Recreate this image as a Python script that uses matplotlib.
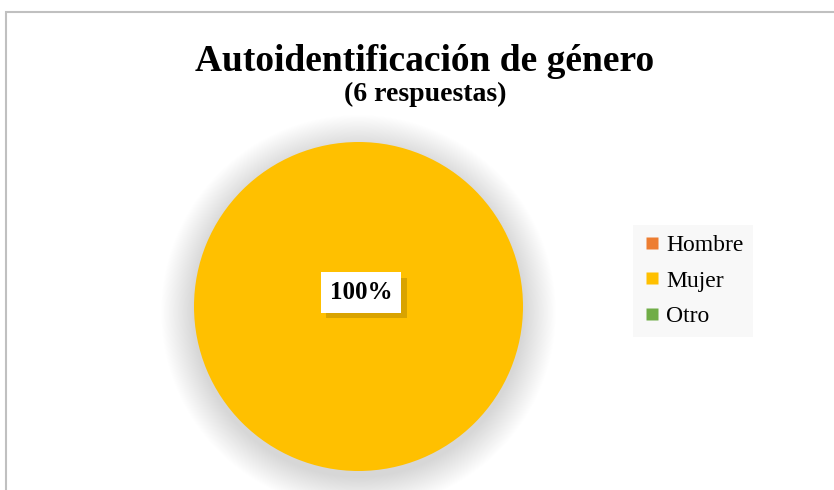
import matplotlib
matplotlib.use("Agg")
import matplotlib.pyplot as plt
from matplotlib.patches import Circle, Rectangle
from matplotlib.lines import Line2D
import matplotlib.patheffects as pe

categories = ["Hombre", "Mujer", "Otro"]
values = [0, 6, 0]
colors = ["#ED7D31", "#FFC000", "#70AD47"]
title = "Autoidentificación de género"
subtitle = "(6 respuestas)"

W, H = 834, 490
fig = plt.figure(figsize=(W / 100, H / 100), dpi=100)
fig.patch.set_facecolor("white")
serif = "Liberation Serif"

# frame
fig.add_artist(Rectangle((6 / W, -0.1), 1.2, (H - 12) / H + 0.1, transform=fig.transFigure,
                         fill=False, edgecolor="#c0c0c0", linewidth=1.5))

cx, cy, r = 358.5, H - 306.5, 164.5
ax = fig.add_axes([(cx - r) / W, (cy - r) / H, 2 * r / W, 2 * r / H])
ax.set_xlim(-1, 1)
ax.set_ylim(-1, 1)
ax.set_aspect("equal")
ax.axis("off")

# soft shadow
N = 40
for i in range(N):
    rr = 1.0 + 0.2 * (1 - i / N)
    ax.add_patch(Circle((0, -0.035), rr, facecolor="black", edgecolor="none",
                        alpha=0.0035, clip_on=False, zorder=0))

wedges, _ = ax.pie(values, colors=colors, startangle=90, counterclock=False,
                   radius=1, wedgeprops=dict(linewidth=0))
for w in wedges:
    w.set_zorder(2)
ax.set_xlim(-1, 1)
ax.set_ylim(-1, 1)

total = sum(values)
for v in values:
    if v > 0:
        t = ax.text(0.015, 0.085, f"{v / total * 100:.0f}%", ha="center", va="center",
                    fontsize=18, fontweight="bold", family=serif, zorder=5,
                    bbox=dict(boxstyle="square,pad=0.35", facecolor="white", edgecolor="none"))
        t.get_bbox_patch().set_path_effects([
            pe.withSimplePatchShadow(offset=(4, -4), shadow_rgbFace="black", alpha=0.15),
        ])

fig.text(425 / W, 1 - 71 / H, title, ha="center", va="baseline", fontsize=27,
         fontweight="bold", family=serif)
fig.text(425.5 / W, 1 - 101 / H, subtitle, ha="center", va="baseline", fontsize=20,
         fontweight="bold", family=serif)

handles = [Line2D([], [], marker="s", linestyle="none", markersize=9,
                  markerfacecolor=c, markeredgecolor="none") for c in colors]
leg = fig.legend(handles, categories, loc="upper left",
                 bbox_to_anchor=(633 / W, 1 - 225 / H),
                 prop=dict(family=serif, size=17), frameon=True, fancybox=False,
                 facecolor="#f8f8f8", edgecolor="none", framealpha=1,
                 handlelength=0.8, handletextpad=0.2, labelspacing=0.6,
                 borderpad=0.4, borderaxespad=0)

fig.savefig("out.png", dpi=100)
